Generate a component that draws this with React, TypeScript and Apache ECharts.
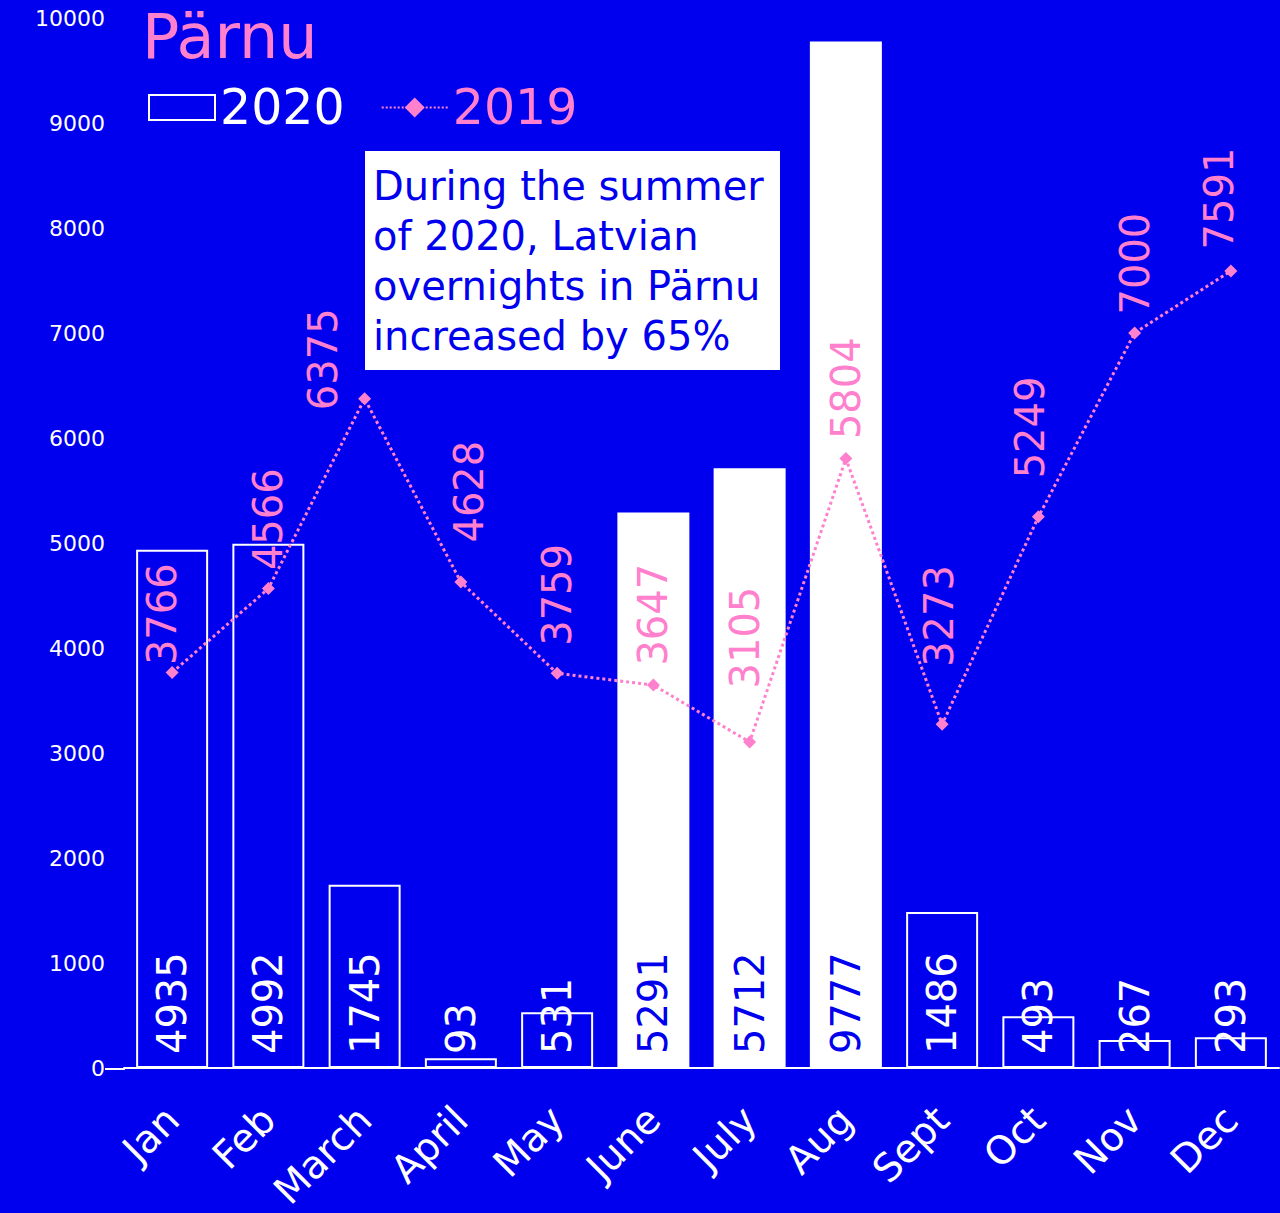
import React, { useEffect, useRef } from "react";
import * as echarts from "echarts";

const months = ["Jan", "Feb", "March", "April", "May", "June", "July", "Aug", "Sept", "Oct", "Nov", "Dec"];
const values2020 = [4935, 4992, 1745, 93, 531, 5291, 5712, 9777, 1486, 493, 267, 293];
const values2019 = [3766, 4566, 6375, 4628, 3759, 3647, 3105, 5804, 3273, 5249, 7000, 7591];
const summerMonths = ["June", "July", "Aug"];
const yTicks = { min: 0, max: 10000, interval: 1000 };
const titleText = "Pärnu";
const noteText = "During the summer\nof 2020, Latvian\novernights in Pärnu\nincreased by 65%";

// manual nudges of the 2019 value labels: [gap above point, horizontal shift]
const labelGap2019 = [12, 23, -7, 44, 32, 24, 58, 24, 62, 43, 23, 26];
const labelShift2019 = [-10, 0, -42, 8, 0, 0, -5, 0, -3, -8, 0, -12];

const BLUE = "#0000ee";
const PINK = "#ff80cc";
const WHITE = "#ffffff";
const FONT = '"DejaVu Sans", sans-serif';

export default function App() {
  const ref = useRef<HTMLDivElement>(null);
  useEffect(() => {
    document.body.style.margin = "0";
    document.body.style.background = BLUE;
    const chart = echarts.init(ref.current!, null, { renderer: "svg" });
    const barData = values2020.map((v, i) => {
      const filled = summerMonths.includes(months[i]);
      return {
        value: v,
        itemStyle: { color: filled ? WHITE : BLUE },
        label: { color: filled ? BLUE : WHITE },
      };
    });
    const lineData = values2019.map((v, i) => ({
      value: v,
      label: { offset: [labelGap2019[i] - 11, labelShift2019[i]] },
    }));
    chart.setOption({
      animation: false,
      backgroundColor: BLUE,
      textStyle: { fontFamily: FONT },
      title: {
        text: titleText,
        left: 142,
        top: 5,
        padding: 0,
        textStyle: { color: PINK, fontSize: 62, fontWeight: "normal", fontFamily: FONT },
      },
      legend: {
        left: 148,
        top: 83,
        padding: 0,
        itemWidth: 66,
        itemHeight: 25,
        itemGap: 36,
        textStyle: { fontSize: 49, fontFamily: FONT },
        data: [
          { name: "2020", icon: "rect", textStyle: { color: WHITE } },
          { name: "2019", textStyle: { color: PINK } },
        ],
      },
      grid: { left: 124, right: 1, top: 18, bottom: 144, containLabel: false },
      xAxis: {
        type: "category",
        data: months,
        axisTick: { show: false },
        axisLine: { lineStyle: { color: WHITE, width: 2 } },
        axisLabel: {
          color: WHITE,
          fontSize: 39,
          rotate: 45,
          interval: 0,
          margin: 45,
          fontFamily: FONT,
        },
      },
      yAxis: {
        type: "value",
        min: yTicks.min,
        max: yTicks.max,
        interval: yTicks.interval,
        splitLine: { show: false },
        axisLine: { show: false },
        axisTick: { show: false },
        axisLabel: {
          color: WHITE,
          fontSize: 22,
          margin: 19,
          fontFamily: FONT,
          formatter: (v: number) => String(v),
        },
      },
      series: [
        {
          name: "2020",
          type: "bar",
          barWidth: 72,
          data: barData,
          itemStyle: { color: BLUE, borderColor: WHITE, borderWidth: 2 },
          label: {
            show: true,
            position: "insideBottom",
            rotate: 90,
            align: "left",
            verticalAlign: "middle",
            distance: 14,
            fontSize: 40,
            fontFamily: FONT,
          },
          z: 2,
        },
        {
          name: "2019",
          type: "line",
          data: lineData,
          symbol: "diamond",
          symbolSize: 13,
          itemStyle: { color: PINK },
          lineStyle: { color: PINK, type: "dotted", width: 3 },
          label: {
            show: true,
            position: "top",
            rotate: 90,
            align: "left",
            verticalAlign: "middle",
            distance: 0,
            fontSize: 40,
            color: PINK,
            fontFamily: FONT,
          },
          z: 3,
        },
      ],
      graphic: [
        {
          type: "line",
          shape: { x1: 105, y1: 1069, x2: 125, y2: 1069 },
          style: { stroke: WHITE, lineWidth: 2 },
        },
        {
          type: "rect",
          shape: { x: 365, y: 151, width: 415, height: 219 },
          style: { fill: WHITE },
          z: 10,
        },
        {
          type: "text",
          x: 373,
          y: 161,
          z: 11,
          style: {
            text: noteText,
            fill: BLUE,
            fontSize: 40,
            lineHeight: 50,
            fontFamily: FONT,
            verticalAlign: "top",
          },
        },
      ],
    });
    return () => chart.dispose();
  }, []);
  return <div ref={ref} style={{ width: 1280, height: 1213 }} />;
}
